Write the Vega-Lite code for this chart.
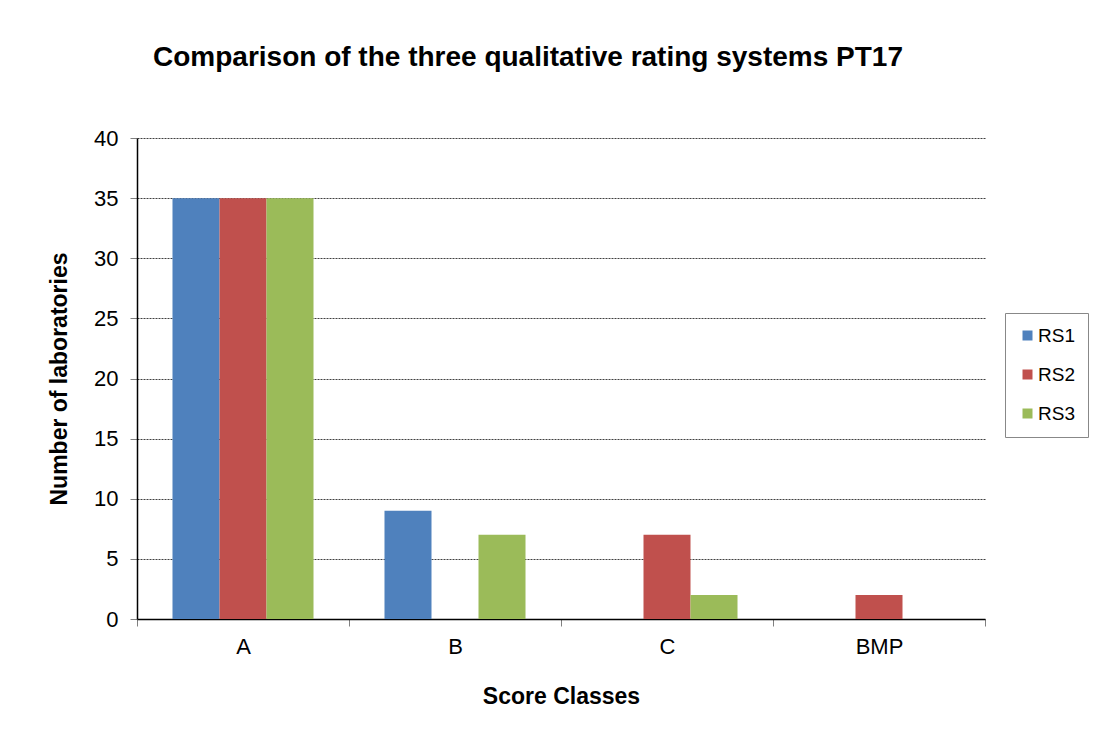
{
  "$schema": "https://vega.github.io/schema/vega-lite/v6.json",
  "autosize": {"type": "none"},
  "width": 848,
  "height": 481,
  "padding": {"left": 137, "top": 138, "right": 114, "bottom": 128},
  "background": "white",
  "title": {
    "text": "Comparison of the three qualitative rating systems PT17",
    "font": "Liberation Sans",
    "fontSize": 28,
    "fontWeight": "bold",
    "color": "#000000",
    "anchor": "middle",
    "frame": "group",
    "dx": -33,
    "baseline": "alphabetic",
    "offset": 33
  },
  "data": {
    "values": [
      {"cls": "A", "rs": "RS1", "n": 35},
      {"cls": "A", "rs": "RS2", "n": 35},
      {"cls": "A", "rs": "RS3", "n": 35},
      {"cls": "B", "rs": "RS1", "n": 9},
      {"cls": "B", "rs": "RS2", "n": 0},
      {"cls": "B", "rs": "RS3", "n": 7},
      {"cls": "C", "rs": "RS1", "n": 0},
      {"cls": "C", "rs": "RS2", "n": 7},
      {"cls": "C", "rs": "RS3", "n": 2},
      {"cls": "BMP", "rs": "RS1", "n": 0},
      {"cls": "BMP", "rs": "RS2", "n": 2},
      {"cls": "BMP", "rs": "RS3", "n": 0}
    ]
  },
  "mark": {"type": "bar"},
  "encoding": {
    "x": {
      "field": "cls",
      "type": "nominal",
      "sort": ["A", "B", "C", "BMP"],
      "scale": {"paddingInner": 0, "paddingOuter": 0},
      "axis": {
        "title": "Score Classes",
        "labelAngle": 0,
        "tickBand": "extent",
        "tickSize": 7,
        "tickColor": "#808080",
        "domainColor": "#000000",
        "labelPadding": 10,
        "titlePadding": 28,
        "grid": false
      }
    },
    "xOffset": {
      "field": "rs",
      "type": "nominal",
      "sort": ["RS1", "RS2", "RS3"],
      "scale": {"paddingInner": 0, "paddingOuter": 0.755}
    },
    "y": {
      "field": "n",
      "type": "quantitative",
      "scale": {"domain": [0, 40]},
      "axis": {
        "title": "Number of laboratories",
        "values": [0, 5, 10, 15, 20, 25, 30, 35, 40],
        "tickSize": 7,
        "tickColor": "#808080",
        "domainColor": "#000000",
        "labelPadding": 12,
        "titlePadding": 22,
        "grid": true,
        "gridColor": "#404040",
        "gridDash": [2, 1],
        "gridWidth": 1
      }
    },
    "color": {
      "field": "rs",
      "type": "nominal",
      "scale": {"domain": ["RS1", "RS2", "RS3"], "range": ["#4F81BD", "#C0504D", "#9BBB59"]},
      "legend": {
        "title": null,
        "orient": "none",
        "legendX": 868,
        "legendY": 175,
        "symbolType": "square",
        "symbolSize": 100,
        "symbolStrokeWidth": 0,
        "labelFontSize": 19,
        "labelFont": "Liberation Sans",
        "labelColor": "#000000",
        "labelOffset": 1,
        "rowPadding": 19,
        "strokeColor": "#888888",
        "padding": 13,
        "fillColor": "white"
      }
    }
  },
  "config": {
    "view": {"stroke": null},
    "axis": {
      "labelFont": "Liberation Sans",
      "labelFontSize": 22,
      "labelColor": "#000000",
      "titleFont": "Liberation Sans",
      "titleFontSize": 23,
      "titleFontWeight": "bold",
      "titleColor": "#000000",
      "domainWidth": 1.5
    }
  }
}
